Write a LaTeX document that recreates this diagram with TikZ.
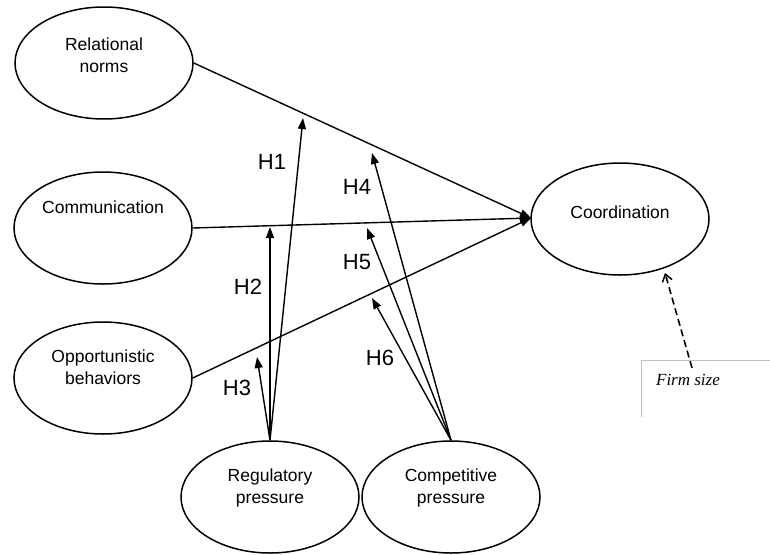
\documentclass[tikz,border=0pt]{standalone}
\usepackage{fontspec}
\setmainfont{Liberation Sans}
\newfontfamily\serifit{Liberation Serif}
\usetikzlibrary{shapes.geometric,arrows.meta}
\begin{document}
\begin{tikzpicture}[x=1pt,y=-1pt,
  ell/.style={draw,line width=1.5pt,ellipse,minimum width=178pt,minimum height=112pt,inner sep=0pt},
  etext/.style={align=center,font=\fontsize{17.5}{21.5}\selectfont,inner sep=0pt},
  hlab/.style={font=\fontsize{22}{24}\selectfont,inner sep=0pt},
  arr/.style={line width=1.4pt,-{Triangle[length=11pt,width=8pt]}},
  gray line/.style={draw=black!25,line width=0.8pt}]
\useasboundingbox (0,0) rectangle (770,554);
% ellipses
\node[ell] (rel) at (104,63) {};
\node[etext] (relT) at (104,55) {Relational\\norms};
\node[ell] (com) at (103,228) {};
\node[etext] (comT) at (103,207) {Communication};
\node[ell] (opp) at (103,378) {};
\node[etext] (oppT) at (103,367) {Opportunistic\\behaviors};
\node[ell] (coo) at (620,219) {};
\node[etext] (cooT) at (620,212) {Coordination};
\node[ell] (reg) at (270,497) {};
\node[etext] (regT) at (270,488) {Regulatory\\pressure};
\node[ell] (cmp) at (451,497) {};
\node[etext] (cmpT) at (451,488) {Competitive\\pressure};
% main paths
\coordinate (tip) at (531,218);
\draw[arr] (rel.east) -- (tip);
\draw[arr] (com.east) -- (tip);
\draw[arr] (opp.east) -- (tip);
% moderator arrows
\coordinate (h1) at (303,118);
\coordinate (h2) at (270,227);
\coordinate (h3) at (257,357);
\coordinate (h4) at (372,153);
\coordinate (h5) at (367,228);
\coordinate (h6) at (372,298);
\draw[arr] (reg.north) -- (h1);
\draw[arr] (reg.north) -- (h2);
\draw[arr] (reg.north) -- (h3);
\draw[arr] (cmp.north) -- (h4);
\draw[arr] (cmp.north) -- (h5);
\draw[arr] (cmp.north) -- (h6);
\node[hlab] (H1) at (272,162) {H1};
\node[hlab] (H2) at (248,287) {H2};
\node[hlab] (H3) at (237,388) {H3};
\node[hlab] (H4) at (357,187) {H4};
\node[hlab] (H5) at (357,262) {H5};
\node[hlab] (H6) at (380,358) {H6};
% firm size
\coordinate (boxc) at (641,360);
\draw[gray line] (770,360) -- (boxc) -- (641,417);
\node[font=\serifit\itshape\fontsize{17}{19}\selectfont,inner sep=0pt] (firm) at (688,380) {Firm size};
\coordinate (fs) at (692,368);
\coordinate (cootip) at (665,273);
\draw[line width=1.6pt,dash pattern=on 7pt off 4pt,-{Straight Barb[length=7pt,width=10pt,line width=1.5pt]}] (fs) -- (cootip);
\end{tikzpicture}
\end{document}
